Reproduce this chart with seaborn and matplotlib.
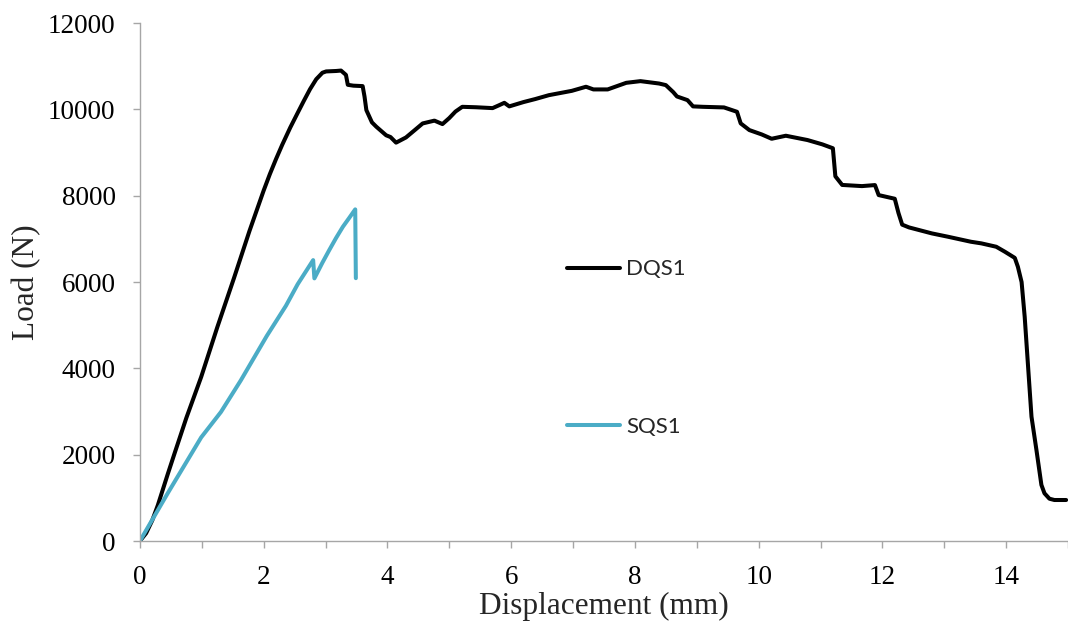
import matplotlib
matplotlib.use("Agg")
import matplotlib.pyplot as plt
import seaborn as sns
import pandas as pd
from matplotlib.ticker import MultipleLocator

# ---- data ----
dqs1_x = [0, 0.1, 0.2, 0.29, 0.45, 0.56, 0.75, 0.99, 1.25, 1.52, 1.77, 2.0, 2.1, 2.2, 2.3, 2.43,
          2.55, 2.65, 2.75, 2.85, 2.95, 3.01, 3.17, 3.25, 3.33, 3.36, 3.45, 3.60, 3.63, 3.66,
          3.75, 3.82, 3.90, 3.98, 4.05, 4.14, 4.30, 4.45, 4.57, 4.76, 4.89, 5.0, 5.10, 5.21,
          5.43, 5.70, 5.81, 5.89, 5.97, 6.2, 6.39, 6.61, 6.98, 7.21, 7.33, 7.56, 7.86, 8.09,
          8.39, 8.50, 8.62, 8.68, 8.85, 8.94, 9.1, 9.44, 9.65, 9.71, 9.85, 10.05, 10.21, 10.44,
          10.79, 11.03, 11.20, 11.24, 11.35, 11.67, 11.88, 11.94, 12.20, 12.26, 12.32, 12.43,
          12.80, 13.06, 13.43, 13.60, 13.84, 13.98, 14.14, 14.19, 14.25, 14.30, 14.41, 14.49,
          14.57, 14.62, 14.70, 14.78, 14.97]
dqs1_y = [0, 180, 480, 830, 1550, 2030, 2850, 3800, 4950, 6090, 7180, 8120, 8500, 8850, 9180, 9580,
          9920, 10200, 10470, 10700, 10850, 10880, 10890, 10900, 10800, 10570, 10550, 10540,
          10300, 9984, 9700, 9600, 9500, 9400, 9360, 9230, 9350, 9530, 9675, 9740, 9660, 9800,
          9950, 10060, 10050, 10030, 10100, 10153, 10070, 10170, 10240, 10330, 10430, 10525,
          10463, 10463, 10616, 10655, 10600, 10563, 10400, 10300, 10215, 10070, 10060, 10046,
          9945, 9676, 9521, 9420, 9320, 9390, 9290, 9190, 9100, 8450, 8250, 8223, 8247, 8015,
          7930, 7600, 7330, 7266, 7127, 7050, 6934, 6896, 6818, 6702, 6560, 6354, 6000, 5196,
          2880, 2108, 1300, 1105, 980, 950, 950]

sqs1_x = [0, 0.45, 0.99, 1.31, 1.63, 2.05, 2.36, 2.55, 2.80, 2.82, 2.95, 3.06, 3.17, 3.28, 3.38,
          3.48, 3.49]
sqs1_y = [0, 1108, 2400, 2990, 3720, 4750, 5450, 5950, 6508, 6085, 6450, 6740, 7020, 7280, 7480,
          7684, 6090]

series_names = ["DQS1", "SQS1"]
series_colors = ["#000000", "#4BACC6"]

x_ticks = [0, 2, 4, 6, 8, 10, 12, 14]
y_ticks = [0, 2000, 4000, 6000, 8000, 10000, 12000]

df = pd.concat([
    pd.DataFrame({"x": dqs1_x, "y": dqs1_y, "series": series_names[0]}),
    pd.DataFrame({"x": sqs1_x, "y": sqs1_y, "series": series_names[1]}),
], ignore_index=True)

sns.set_style("white")
plt.rcParams["font.family"] = ["Liberation Serif", "DejaVu Serif"]

fig = plt.figure(figsize=(10.68, 6.24), dpi=100)
ax = fig.add_axes([0.131, 0.133, 0.869, 0.830])

sns.lineplot(data=df, x="x", y="y", hue="series", palette=dict(zip(series_names, series_colors)),
             sort=False, estimator=None, units="series", linewidth=2.9, ax=ax)
for ln in ax.get_lines():
    ln.set_solid_joinstyle("round")
    ln.set_solid_capstyle("round")

ax.set_xlim(0, 15)
ax.set_ylim(0, 12000)
ax.set_xticks(x_ticks)
ax.xaxis.set_minor_locator(MultipleLocator(1))
ax.set_yticks(y_ticks)

spine_c = "#A6A6A6"
for s in ["top", "right"]:
    ax.spines[s].set_visible(False)
for s in ["left", "bottom"]:
    ax.spines[s].set_color(spine_c)
    ax.spines[s].set_linewidth(1.0)

ax.tick_params(axis="both", which="both", direction="out", color=spine_c, width=1.0, length=5,
               labelsize=19.5, labelcolor="black")
ax.tick_params(axis="x", which="both", bottom=True, pad=12)
ax.tick_params(axis="y", which="major", left=True, pad=12.5)

ax.set_xlabel("Displacement (mm)", fontsize=22.5, labelpad=2)
ax.set_ylabel("Load (N)", fontsize=22.5, labelpad=5)

leg = ax.legend(loc="upper left", bbox_to_anchor=(0.448, 0.565), frameon=False,
                prop={"family": ["Lato", "DejaVu Sans"], "size": 16},
                handlelength=2.4, handletextpad=0.27, labelspacing=6.2, borderpad=0)
for h in leg.get_lines():
    h.set_linewidth(2.9)

fig.savefig("out.png", dpi=100)
